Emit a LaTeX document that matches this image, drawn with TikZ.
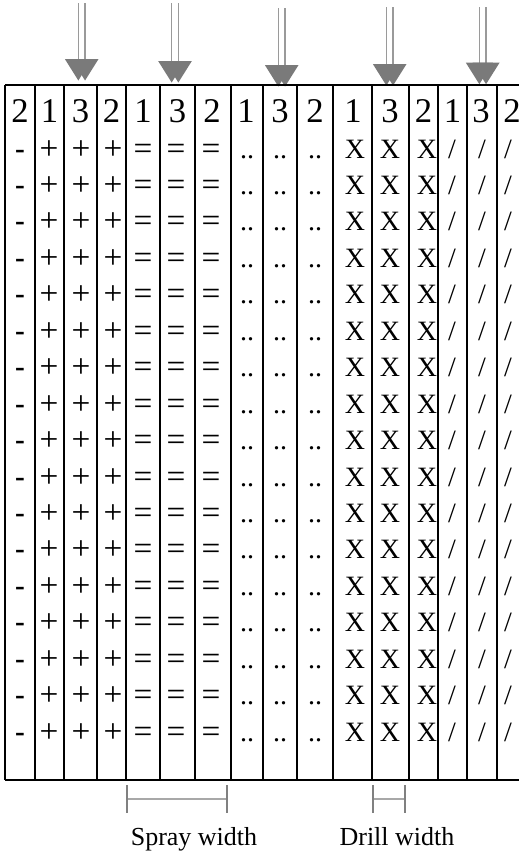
\documentclass[tikz,border=0pt]{standalone}
\usepackage{fontspec}
\setmainfont{Liberation Serif}
\usetikzlibrary{calc}
\definecolor{shaftgray}{HTML}{9A9A9A}
\definecolor{headgray}{HTML}{7A7A7A}
\definecolor{tickgray}{HTML}{808080}
\definecolor{spangray}{HTML}{A8A8A8}
\begin{document}
\begin{tikzpicture}[x=0.75pt,y=-0.75pt,
  grid/.style={line width=0.9pt, black},
  hdr/.style={anchor=base, inner sep=0pt, font=\fontsize{26}{26}\selectfont},
  sym/.style={anchor=base, inner sep=0pt, font=\fontsize{21}{21}\selectfont},
  bigsym/.style={anchor=base, inner sep=0pt, font=\fontsize{25}{25}\selectfont},
  dashsym/.style={anchor=base, inner sep=0pt, font=\fontsize{22}{22}\selectfont\bfseries},
  shaft/.style={draw=shaftgray, line width=1pt},
  headfill/.style={fill=headgray},
  tickmark/.style={draw=tickgray, line width=2.2pt},
  spanline/.style={draw=spangray, line width=1.1pt},
  lbl/.style={anchor=base, inner sep=0pt, font=\fontsize{19.5}{19.5}\selectfont}]
\useasboundingbox (0,0) rectangle (519,854);
% arrows
\foreach \ai/\ax/\atop/\ahy in {1/81.7/3/59, 2/175/3/61, 3/281.7/8/65, 4/389.7/7/64, 5/482.7/7/62.7} {
  \coordinate (s\ai) at (\ax,\atop);
  \coordinate (h\ai) at (\ax,\ahy);
  \draw[shaft] ($(s\ai)+(-3.35,0)$) -- ($(h\ai)+(-3.35,0)$);
  \draw[shaft] ($(s\ai)+(3.35,0)$) -- ($(h\ai)+(3.35,0)$);
  \fill[headfill] ($(h\ai)+(-16.85,0)$) -- ($(h\ai)+(10.15,0)$) -- ($(h\ai)+(-3.35,21.5)$) -- cycle;
  \fill[headfill] ($(h\ai)+(-10.15,0)$) -- ($(h\ai)+(16.85,0)$) -- ($(h\ai)+(3.35,21.5)$) -- cycle;
}
% table frame
\coordinate (tl) at (5,85);
\coordinate (tr) at (519,85);
\coordinate (bl) at (5,780);
\coordinate (br) at (519,780);
\draw[grid] (tl) -- (tr);
\draw[grid] (bl) -- (br);
\foreach \vx [count=\vk] in {5,35,64,97,126,160,195,231,263,297,333,372,409,438,467,497} {
  \coordinate (vt\vk) at (\vx,85);
  \coordinate (vb\vk) at (\vx,780);
  \draw[grid] (vt\vk) -- (vb\vk);
}
% header digits
\foreach \hx/\hdg [count=\hc] in {20/2, 49.5/1, 80.5/3, 111.5/2, 143/1, 177.5/3, 212/2, 246/1, 280/3, 315/2, 353/1, 390/3, 423.5/2, 452.5/1, 481/3, 512/2} {
  \node[hdr] (hd\hc) at (\hx,122) {\hdg};
}
% symbol rows
\foreach \rr in {0,...,16} {
  \pgfmathsetmacro\yb{158+36.45*\rr}
  \pgfmathsetmacro\ybb{159+36.45*\rr}
  \node[dashsym] (r\rr c1) at (20,\yb) {-};
  \foreach \sx/\ss [count=\sc from 2] in {49/+, 81/+, 113/+, 143/=, 176/=, 211/=} {
    \node[bigsym] (r\rr c\sc) at (\sx,\ybb) {\ss};
  }
  \foreach \sx/\ss [count=\sc from 8] in {247/.., 280/.., 315/.., 355/X, 390/X, 427/X, 452/{/}, 482/{/}, 508/{/}} {
    \node[sym] (r\rr c\sc) at (\sx,\yb) {\ss};
  }
}
% width markers
\coordinate (sL) at (127,799);
\coordinate (sR) at (227,799);
\coordinate (dL) at (373,799);
\coordinate (dR) at (405,799);
\draw[spanline] (sL) -- (sR);
\draw[spanline] (dL) -- (dR);
\foreach \p in {sL,sR,dL,dR} {
  \draw[tickmark] ($(\p)+(0,-14)$) -- ($(\p)+(0,14)$);
}
\node[lbl] (spray) at (194,845) {Spray width};
\node[lbl] (drill) at (397,845) {Drill width};
\end{tikzpicture}
\end{document}
